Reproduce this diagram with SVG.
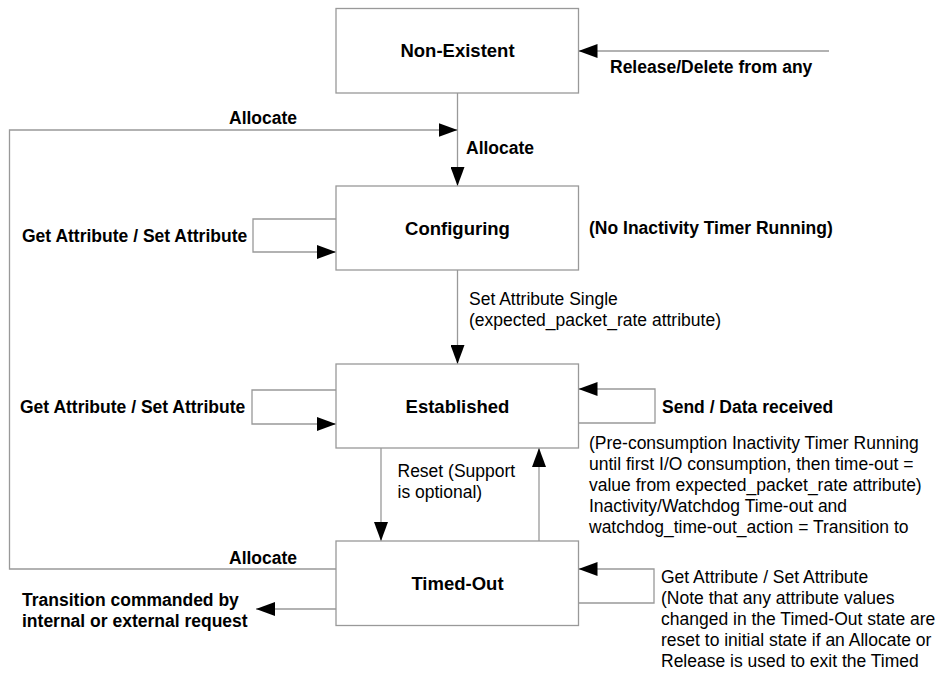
<svg xmlns="http://www.w3.org/2000/svg" width="939" height="673" viewBox="0 0 939 673">
<style>
.box{fill:#fff;stroke:#999;stroke-width:1.3}
.ln{fill:none;stroke:#999;stroke-width:1.3}
.st{font-family:"Liberation Sans",Arial,sans-serif;font-weight:bold;font-size:18.5px;fill:#000;text-anchor:middle;dominant-baseline:central}
.lb{font-family:"Liberation Sans",Arial,sans-serif;font-weight:bold;font-size:17.5px;fill:#000;dominant-baseline:central}
.tx{font-family:"Liberation Sans",Arial,sans-serif;font-size:17.5px;fill:#000;dominant-baseline:central}
</style>
<defs>
<marker id="ah" markerUnits="userSpaceOnUse" markerWidth="20" markerHeight="14" refX="19" refY="7" orient="auto">
<path d="M0,0 L19,7 L0,14 Z" fill="#000"/>
</marker>
</defs>
<rect width="939" height="673" fill="#fff"/>
<g id="connectors">
<path class="ln" d="M457.5,93 V186" marker-end="url(#ah)"/>
<path class="ln" d="M336,569 H9.5 V130 H457.5" marker-end="url(#ah)"/>
<path class="ln" d="M829,51 H578.5" marker-end="url(#ah)"/>
<path class="ln" d="M336,219 H253 V252 H336" marker-end="url(#ah)"/>
<path class="ln" d="M457.5,270 V364" marker-end="url(#ah)"/>
<path class="ln" d="M336,390 H252 V424 H336" marker-end="url(#ah)"/>
<path class="ln" d="M578.5,423 H655 V389 H578.5" marker-end="url(#ah)"/>
<path class="ln" d="M381,448 V541" marker-end="url(#ah)"/>
<path class="ln" d="M539,541 V448" marker-end="url(#ah)"/>
<path class="ln" d="M578.5,603 H654 V569 H578.5" marker-end="url(#ah)"/>
<path class="ln" d="M336,609 H256" marker-end="url(#ah)"/>
<text class="lb" x="229" y="118">Allocate</text>
<text class="lb" x="466" y="148">Allocate</text>
<text class="lb" x="610" y="67">Release/Delete from any</text>
<text class="lb" x="22" y="236">Get Attribute / Set Attribute</text>
<text class="lb" x="589" y="228">(No Inactivity Timer Running)</text>
<text class="tx" x="469" y="299">Set Attribute Single</text>
<text class="tx" x="469" y="320">(expected_packet_rate attribute)</text>
<text class="lb" x="20" y="407">Get Attribute / Set Attribute</text>
<text class="lb" x="662" y="407">Send / Data received</text>
<text class="tx" x="589" y="443">(Pre-consumption Inactivity Timer Running</text>
<text class="tx" x="589" y="464">until first I/O consumption, then time-out =</text>
<text class="tx" x="589" y="485">value from expected_packet_rate attribute)</text>
<text class="tx" x="589" y="506">Inactivity/Watchdog Time-out and</text>
<text class="tx" x="589" y="527">watchdog_time-out_action = Transition to</text>
<text class="tx" x="397.5" y="471">Reset (Support</text>
<text class="tx" x="397.5" y="492">is optional)</text>
<text class="lb" x="229" y="558">Allocate</text>
<text class="tx" x="661" y="577">Get Attribute / Set Attribute</text>
<text class="tx" x="661" y="598">(Note that any attribute values</text>
<text class="tx" x="661" y="619">changed in the Timed-Out state are</text>
<text class="tx" x="661" y="640">reset to initial state if an Allocate or</text>
<text class="tx" x="661" y="661">Release is used to exit the Timed</text>
<text class="lb" x="22" y="600">Transition commanded by</text>
<text class="lb" x="22" y="621">internal or external request</text>
</g>
<g id="non-existent"><rect class="box" x="336" y="8.5" width="242.5" height="84.5"/><text class="st" x="457.5" y="50">Non-Existent</text></g>
<g id="configuring"><rect class="box" x="336" y="186" width="242.5" height="84"/><text class="st" x="457.5" y="228">Configuring</text></g>
<g id="established"><rect class="box" x="336" y="364" width="242.5" height="84"/><text class="st" x="457.5" y="406">Established</text></g>
<g id="timed-out"><rect class="box" x="336" y="541" width="242.5" height="84.5"/><text class="st" x="457.5" y="583">Timed-Out</text></g>
</svg>
